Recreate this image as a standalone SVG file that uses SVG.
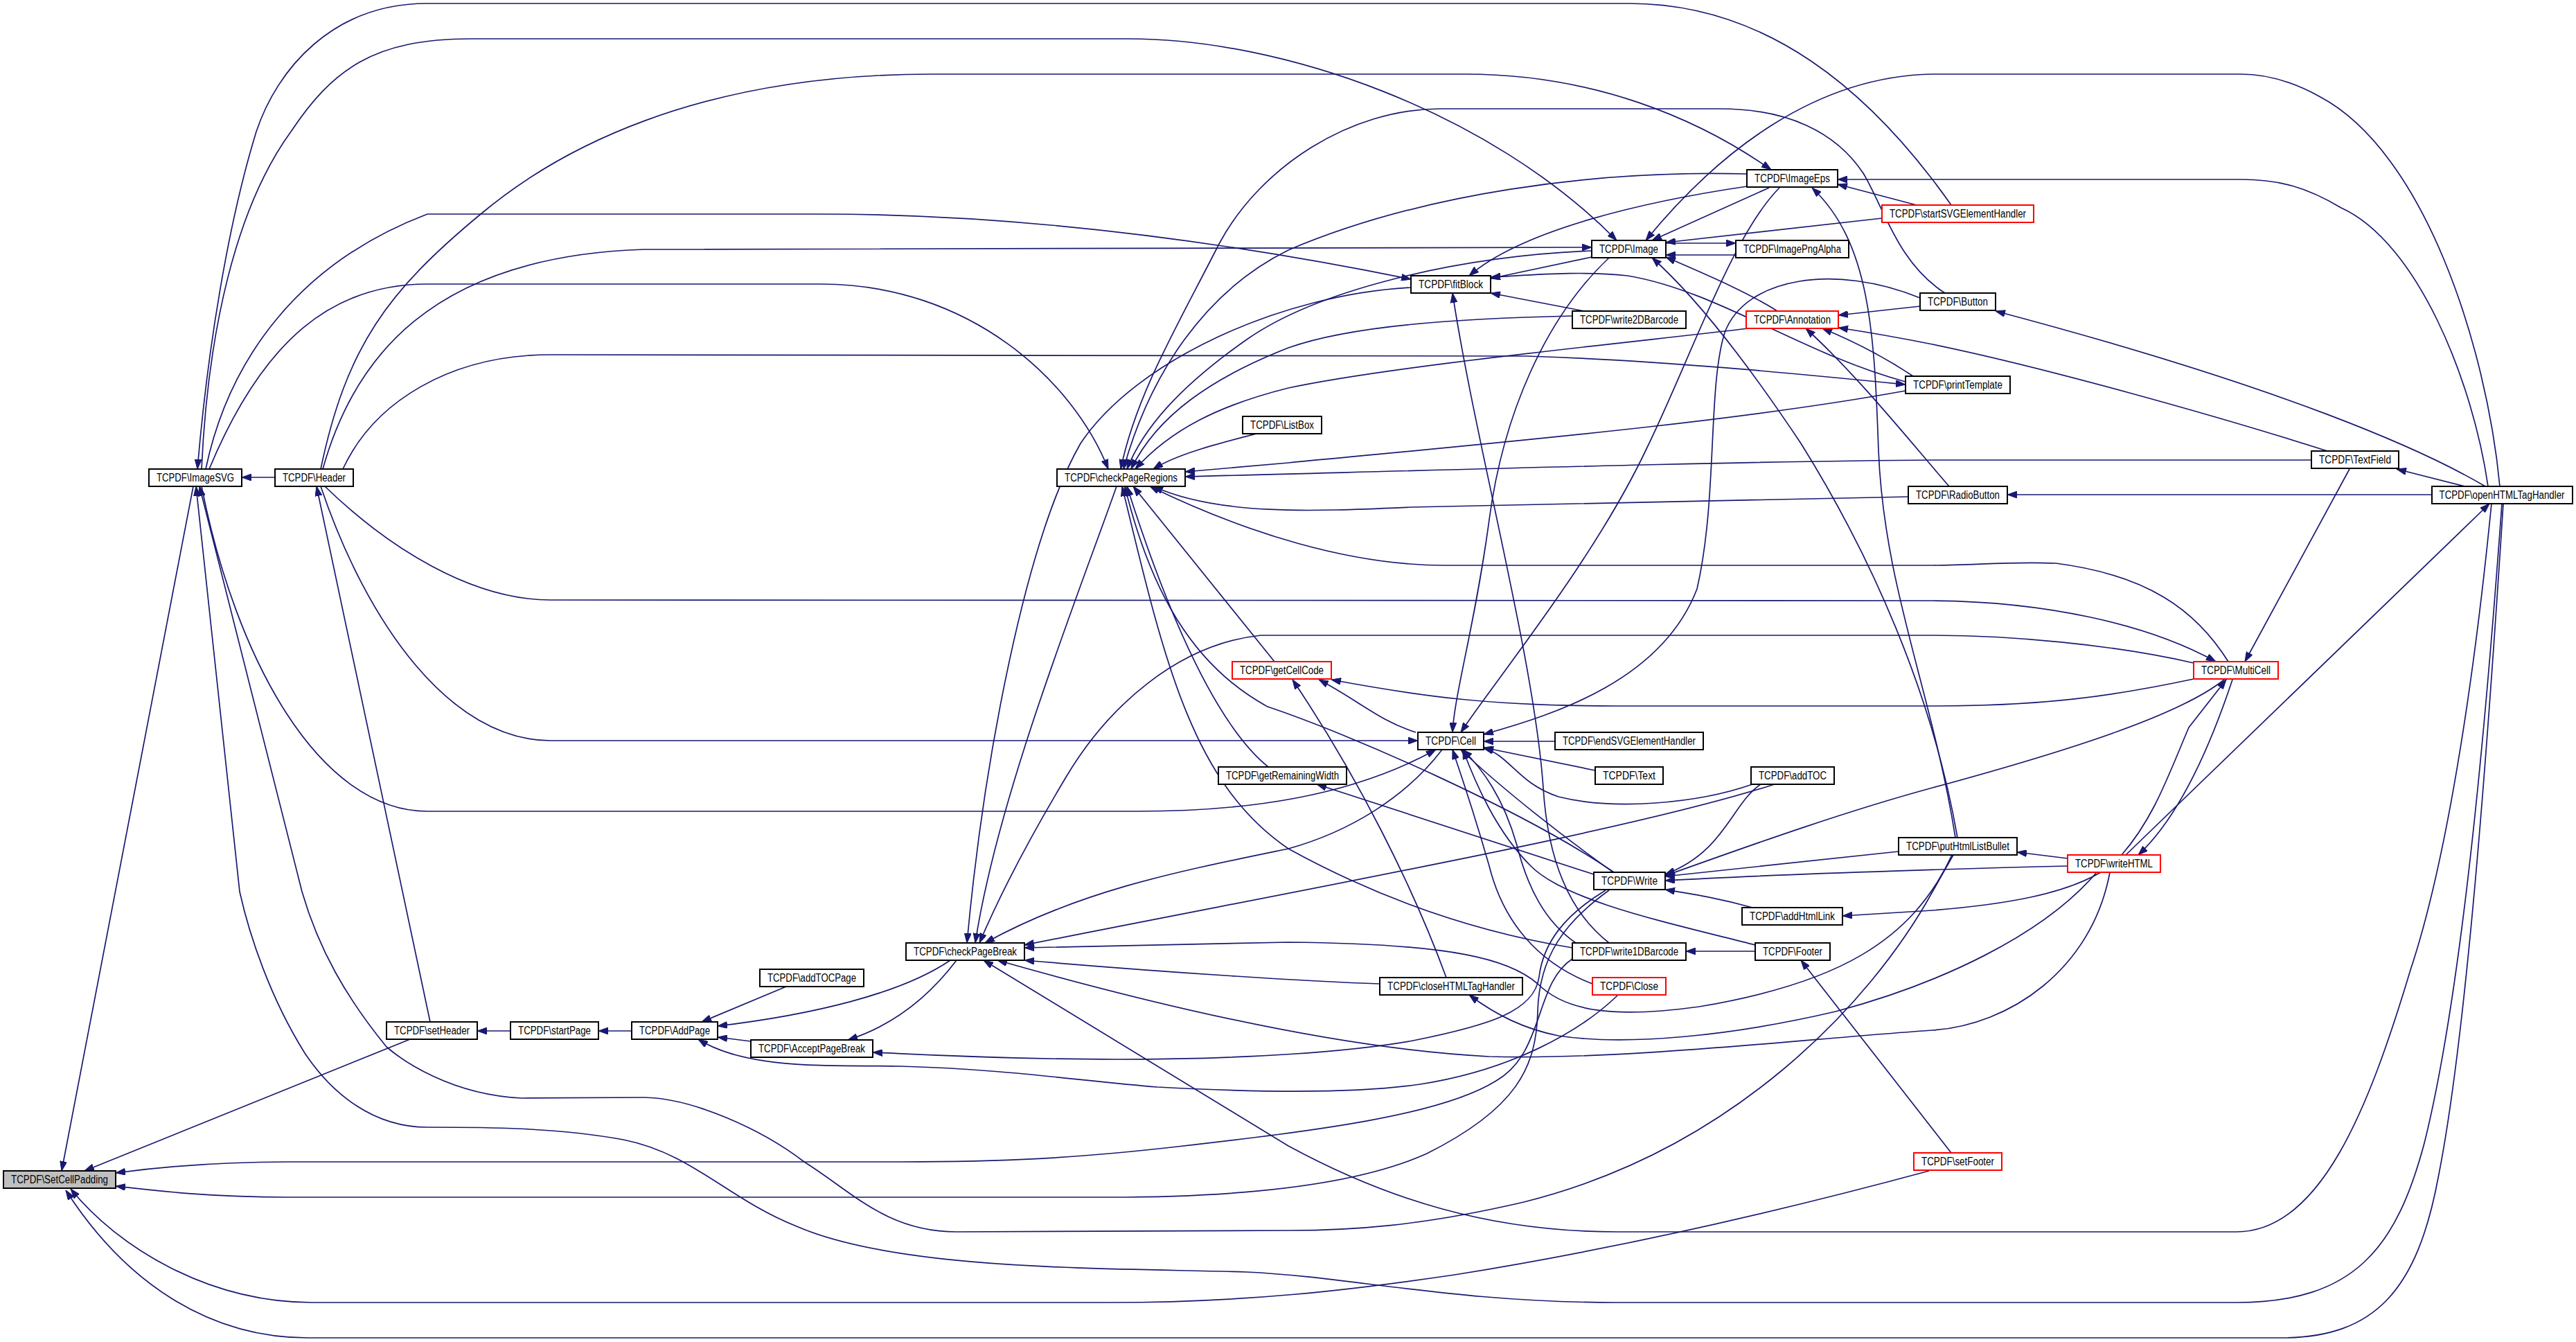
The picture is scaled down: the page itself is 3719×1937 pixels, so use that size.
<svg xmlns="http://www.w3.org/2000/svg" width="3719" height="1937" viewBox="0 0 3719 1937">
<style>
.edge{fill:none;stroke:#191970;stroke-width:1.7;marker-end:url(#arr)}
.node rect{fill:#ffffff;stroke:#000000;stroke-width:2}
.node.red rect{stroke:#ff0000}
.node.root rect{fill:#bfbfbf}
.node text{font-family:"Liberation Sans",Arial,sans-serif;font-size:16px;text-anchor:middle;fill:#000000}
</style>
<defs>
<marker id="arr" viewBox="0 0 14 10" refX="14" refY="5" markerWidth="14" markerHeight="10" markerUnits="userSpaceOnUse" orient="auto">
<path d="M0,0 L14,5 L0,10 z" fill="#191970" stroke="#191970"/>
</marker>
</defs>
<rect width="3719" height="1937" fill="#ffffff"/>
<g id="edges">
<path class="edge" d="M397,689 L349,689"/>
<path class="edge" d="M279,702 L89,1690"/>
<path class="edge" d="M592,1500 L122,1690"/>
<path class="edge" d="M2270,1384 C2215,1420 2230,1520 2160,1560 C2080,1610 1900,1632 1700,1655 C1550,1672 1450,1677 1300,1677 L415,1677 C300,1677 220,1686 167,1693"/>
<path class="edge" d="M2323,1285 C2260,1330 2222,1380 2220,1460 C2218,1540 2190,1600 2060,1665 C1960,1710 1800,1728 1600,1728 L415,1728 C300,1728 220,1718 167,1712"/>
<path class="edge" d="M2785,1690 C2600,1740 2350,1800 2100,1840 C1950,1862 1800,1880 1600,1880 L451,1880 C300,1880 170,1800 102,1716"/>
<path class="edge" d="M3614,727 C3590,1100 3560,1500 3520,1700 C3490,1860 3430,1931 3294,1931 L445,1931 C300,1931 180,1850 95,1718"/>
<path class="edge" d="M469,702 C560,790 680,866 795,866 L2790,867 C2950,868 3100,900 3199,955"/>
<path class="edge" d="M463,702 C530,900 650,1069 795,1069 L2047,1069"/>
<path class="edge" d="M621,1475 L457,702"/>
<path class="edge" d="M291,702 C340,950 460,1171 617,1171 L1642,1171 C1800,1171 1950,1150 2073,1082"/>
<path class="edge" d="M2820,1234 L2790,1287 C2700,1450 2500,1660 2200,1735 C2050,1770 1950,1776 1860,1776 L1381,1778 C1280,1778 1230,1720 1161,1677 C1100,1630 1000,1585 930,1584 L753,1585 C650,1580 580,1530 558,1511 C500,1440 460,1370 436,1287 L288,702"/>
<path class="edge" d="M3612,727 C3585,1100 3550,1450 3500,1650 C3460,1800 3400,1880 3229,1880 L2334,1880 C2100,1880 1950,1843 1800,1836 C1600,1830 1300,1835 1150,1770 C1050,1730 1000,1665 900,1645 C800,1627 700,1627 617,1627 C540,1627 480,1580 440,1520 C390,1440 360,1350 346,1287 L283,702"/>
<path class="edge" d="M3597,727 C3570,1000 3530,1250 3480,1400 C3420,1600 3350,1778 3229,1778 L2334,1778 C2150,1778 2000,1730 1860,1654 L1420,1386"/>
<path class="edge" d="M2817,296 C2700,130 2550,5 2352,5 L617,5 C480,5 400,100 370,190 C330,320 300,500 285,677"/>
<path class="edge" d="M291,677 C300,480 340,300 420,190 C480,100 540,56 680,56 L1630,56 C1850,56 2150,160 2334,347"/>
<path class="edge" d="M463,677 C500,500 560,420 694,309 C800,220 1000,107 1345,107 L2115,107 C2300,107 2450,170 2557,245"/>
<path class="edge" d="M297,677 C330,520 430,380 617,309 L1185,309 C1500,309 1800,355 2037,403"/>
<path class="edge" d="M466,677 C510,520 620,370 930,360 L2298,357"/>
<path class="edge" d="M302,677 C380,490 480,410 617,410 L1185,410 C1400,410 1550,550 1600,677"/>
<path class="edge" d="M495,677 C540,580 650,512 795,512 L2204,514 C2400,520 2600,540 2751,555"/>
<path class="edge" d="M737,1488 L689,1488"/>
<path class="edge" d="M912,1488 L864,1488"/>
<path class="edge" d="M1135,1424 L1013,1475"/>
<path class="edge" d="M1372,1386 C1300,1435 1170,1465 1036,1481"/>
<path class="edge" d="M1381,1386 C1340,1440 1290,1480 1224,1501"/>
<path class="edge" d="M1084,1503 L1036,1497"/>
<path class="edge" d="M2335,1437 C2280,1490 2180,1545 2050,1565 C1950,1580 1800,1576 1671,1569 C1560,1560 1450,1543 1300,1539 C1200,1537 1080,1545 1008,1500"/>
<path class="edge" d="M2318,1285 C2260,1320 2228,1360 2222,1410 C2215,1460 2150,1480 2040,1502 C1950,1518 1800,1529 1612,1529 C1450,1529 1330,1522 1260,1519"/>
<path class="edge" d="M2037,415 C1850,425 1640,520 1560,640 C1480,780 1420,1100 1396,1361"/>
<path class="edge" d="M1612,702 C1560,850 1440,1150 1408,1361"/>
<path class="edge" d="M3167,957 C3050,930 2900,917 2790,917 L1820,917 C1700,930 1600,1020 1540,1120 C1480,1220 1440,1300 1414,1361"/>
<path class="edge" d="M2082,1082 C2030,1150 1950,1200 1860,1225 C1700,1258 1560,1285 1422,1361"/>
<path class="edge" d="M2562,1132 C2350,1200 1900,1280 1479,1364"/>
<path class="edge" d="M2818,1234 C2760,1360 2650,1420 2453,1453 C2330,1470 2260,1460 2220,1420 C2180,1385 2100,1362 1860,1360 L1479,1368"/>
<path class="edge" d="M1992,1420 C1900,1417 1700,1405 1479,1386"/>
<path class="edge" d="M3046,1259 C3020,1400 2900,1480 2790,1487 C2600,1500 2350,1530 2150,1525 C1950,1515 1700,1460 1440,1386"/>
<path class="edge" d="M3027,1259 C2950,1350 2800,1420 2650,1460 C2500,1495 2350,1510 2250,1495 C2200,1485 2160,1465 2121,1436"/>
<path class="edge" d="M3033,1259 C2980,1290 2900,1305 2790,1314 L2660,1322"/>
<path class="edge" d="M2985,1250 C2900,1252 2600,1260 2404,1271"/>
<path class="edge" d="M2985,1239 L2912,1230"/>
<path class="edge" d="M3069,1234 L3594,727"/>
<path class="edge" d="M3063,1234 C3110,1180 3130,1120 3160,1050 L3214,981"/>
<path class="edge" d="M3223,981 C3190,1080 3145,1180 3087,1234"/>
<path class="edge" d="M3211,981 C3150,1030 3000,1080 2790,1137 C2650,1175 2500,1230 2404,1264"/>
<path class="edge" d="M3167,980 C3050,1005 2950,1019 2790,1019 L2334,1019 C2150,1019 2050,1005 1922,981"/>
<path class="edge" d="M3217,955 C3170,880 3100,830 2968,813 C2900,810 2850,816 2790,816 L2085,816 C1950,816 1800,770 1660,702"/>
<path class="edge" d="M3392,677 L3241,955"/>
<path class="edge" d="M3337,664 L2790,664 C2500,666 2100,678 1711,688"/>
<path class="edge" d="M3360,651 C3200,600 2950,530 2790,497 C2740,487 2700,480 2654,473"/>
<path class="edge" d="M3558,702 L3460,677"/>
<path class="edge" d="M3511,714 L2898,714"/>
<path class="edge" d="M3588,702 C3500,650 3300,560 2881,449"/>
<path class="edge" d="M3609,702 C3590,500 3500,220 3350,140 C3300,112 3260,107 3235,107 L2790,107 C2620,110 2480,220 2376,347"/>
<path class="edge" d="M3592,702 C3570,550 3490,350 3380,300 C3330,270 3290,259 3235,259 L2653,259"/>
<path class="edge" d="M2826,1209 C2790,1000 2700,800 2600,640 C2520,520 2450,430 2385,372"/>
<path class="edge" d="M2823,1209 C2790,1000 2720,850 2712,650 C2706,480 2700,350 2616,271"/>
<path class="edge" d="M2767,296 L2653,266"/>
<path class="edge" d="M2717,315 L2405,350"/>
<path class="edge" d="M2554,271 L2385,347"/>
<path class="edge" d="M2405,351 L2506,351"/>
<path class="edge" d="M2506,368 L2405,368"/>
<path class="edge" d="M2566,449 C2520,420 2460,395 2405,371"/>
<path class="edge" d="M2298,371 L2152,402"/>
<path class="edge" d="M2522,269 C2380,290 2200,330 2121,398"/>
<path class="edge" d="M2287,449 L2152,423"/>
<path class="edge" d="M2751,551 C2600,510 2480,420 2350,398 C2280,390 2200,398 2152,400"/>
<path class="edge" d="M2323,1361 C2270,1320 2235,1250 2228,1137 C2215,950 2130,640 2097,423"/>
<path class="edge" d="M2772,442 L2654,455"/>
<path class="edge" d="M2814,702 C2760,640 2680,540 2607,474"/>
<path class="edge" d="M2762,543 C2720,515 2670,490 2631,474"/>
<path class="edge" d="M2525,474 C2300,500 2000,530 1860,560 C1760,585 1690,620 1639,677"/>
<path class="edge" d="M2270,456 C2100,460 1950,470 1860,502 C1750,545 1670,600 1633,677"/>
<path class="edge" d="M2298,362 C2100,370 1900,420 1800,490 C1700,560 1650,620 1627,677"/>
<path class="edge" d="M2522,251 C2300,245 2050,280 1860,361 C1740,420 1660,540 1622,677"/>
<path class="edge" d="M2808,423 C2740,380 2720,300 2690,250 C2650,190 2580,157 2483,157 L2079,157 C1950,157 1820,240 1760,352 C1700,470 1640,570 1618,677"/>
<path class="edge" d="M1814,626 C1760,640 1700,655 1665,677"/>
<path class="edge" d="M1840,955 L1636,702"/>
<path class="edge" d="M1831,1107 C1760,1050 1690,900 1627,702"/>
<path class="edge" d="M2330,1259 C2200,1170 1950,1060 1830,1020 C1720,960 1660,850 1624,702"/>
<path class="edge" d="M2270,1368 C2100,1340 1960,1280 1860,1225 C1720,1130 1680,950 1620,702"/>
<path class="edge" d="M2755,717 L2038,732 C1900,738 1760,745 1665,702"/>
<path class="edge" d="M2751,564 C2500,610 2150,640 1860,668 L1711,681"/>
<path class="edge" d="M2323,372 C2230,460 2170,600 2150,750 C2130,900 2100,1000 2097,1057"/>
<path class="edge" d="M2569,271 C2500,340 2440,520 2376,650 C2300,810 2160,980 2109,1057"/>
<path class="edge" d="M2772,430 C2650,380 2520,400 2490,480 C2465,560 2480,720 2450,850 C2400,980 2250,1030 2142,1060"/>
<path class="edge" d="M2245,1070 L2142,1070"/>
<path class="edge" d="M2303,1112 L2142,1079"/>
<path class="edge" d="M2530,1132 C2450,1160 2330,1170 2250,1150 C2190,1130 2180,1090 2142,1080"/>
<path class="edge" d="M2329,1259 C2260,1210 2170,1140 2109,1082"/>
<path class="edge" d="M2299,1420 C2220,1390 2170,1330 2150,1250 C2130,1180 2110,1120 2097,1082"/>
<path class="edge" d="M2275,1361 C2230,1330 2205,1280 2190,1220 C2170,1150 2140,1110 2112,1082"/>
<path class="edge" d="M2534,1364 C2400,1330 2260,1300 2210,1250 C2160,1200 2130,1130 2112,1082"/>
<path class="edge" d="M2044,1057 C1990,1040 1960,1010 1904,981"/>
<path class="edge" d="M2088,1411 C2040,1280 1960,1120 1866,981"/>
<path class="edge" d="M2301,1262 L1901,1132"/>
<path class="edge" d="M2542,1132 C2500,1160 2490,1230 2404,1262"/>
<path class="edge" d="M2741,1229 L2404,1265"/>
<path class="edge" d="M2530,1310 C2480,1296 2440,1290 2404,1284"/>
<path class="edge" d="M2534,1373 L2434,1373"/>
<path class="edge" d="M2817,1664 L2600,1386"/>
</g>
<g id="node-SetCellPadding" class="node root"><rect x="5" y="1690" width="162" height="25"/><text x="86" y="1707.5" textLength="140" lengthAdjust="spacingAndGlyphs">TCPDF\SetCellPadding</text></g>
<g id="node-ImageSVG" class="node"><rect x="215" y="677" width="134" height="25"/><text x="282" y="694.5" textLength="112" lengthAdjust="spacingAndGlyphs">TCPDF\ImageSVG</text></g>
<g id="node-Header" class="node"><rect x="397" y="677" width="113" height="25"/><text x="453.5" y="694.5" textLength="91" lengthAdjust="spacingAndGlyphs">TCPDF\Header</text></g>
<g id="node-setHeader" class="node"><rect x="558" y="1475" width="131" height="25"/><text x="623.5" y="1492.5" textLength="109" lengthAdjust="spacingAndGlyphs">TCPDF\setHeader</text></g>
<g id="node-startPage" class="node"><rect x="737" y="1475" width="127" height="25"/><text x="800.5" y="1492.5" textLength="105" lengthAdjust="spacingAndGlyphs">TCPDF\startPage</text></g>
<g id="node-AddPage" class="node"><rect x="912" y="1475" width="124" height="25"/><text x="974" y="1492.5" textLength="102" lengthAdjust="spacingAndGlyphs">TCPDF\AddPage</text></g>
<g id="node-addTOCPage" class="node"><rect x="1097" y="1399" width="150" height="25"/><text x="1172" y="1416.5" textLength="128" lengthAdjust="spacingAndGlyphs">TCPDF\addTOCPage</text></g>
<g id="node-AcceptPageBreak" class="node"><rect x="1084" y="1501" width="176" height="25"/><text x="1172" y="1518.5" textLength="154" lengthAdjust="spacingAndGlyphs">TCPDF\AcceptPageBreak</text></g>
<g id="node-checkPageBreak" class="node"><rect x="1308" y="1361" width="171" height="25"/><text x="1393.5" y="1378.5" textLength="149" lengthAdjust="spacingAndGlyphs">TCPDF\checkPageBreak</text></g>
<g id="node-checkPageRegions" class="node"><rect x="1526" y="677" width="185" height="25"/><text x="1618.5" y="694.5" textLength="163" lengthAdjust="spacingAndGlyphs">TCPDF\checkPageRegions</text></g>
<g id="node-ListBox" class="node"><rect x="1794" y="601" width="114" height="25"/><text x="1851" y="618.5" textLength="92" lengthAdjust="spacingAndGlyphs">TCPDF\ListBox</text></g>
<g id="node-getCellCode" class="node red"><rect x="1779" y="955" width="143" height="25"/><text x="1850.5" y="972.5" textLength="121" lengthAdjust="spacingAndGlyphs">TCPDF\getCellCode</text></g>
<g id="node-getRemainingWidth" class="node"><rect x="1759" y="1107" width="185" height="25"/><text x="1851.5" y="1124.5" textLength="163" lengthAdjust="spacingAndGlyphs">TCPDF\getRemainingWidth</text></g>
<g id="node-closeHTMLTagHandler" class="node"><rect x="1992" y="1411" width="206" height="25"/><text x="2095" y="1428.5" textLength="184" lengthAdjust="spacingAndGlyphs">TCPDF\closeHTMLTagHandler</text></g>
<g id="node-fitBlock" class="node"><rect x="2037" y="398" width="115" height="25"/><text x="2094.5" y="415.5" textLength="93" lengthAdjust="spacingAndGlyphs">TCPDF\fitBlock</text></g>
<g id="node-Cell" class="node"><rect x="2047" y="1057" width="95" height="25"/><text x="2094.5" y="1074.5" textLength="73" lengthAdjust="spacingAndGlyphs">TCPDF\Cell</text></g>
<g id="node-Image" class="node"><rect x="2298" y="347" width="107" height="25"/><text x="2351.5" y="364.5" textLength="85" lengthAdjust="spacingAndGlyphs">TCPDF\Image</text></g>
<g id="node-write2DBarcode" class="node"><rect x="2270" y="449" width="164" height="25"/><text x="2352" y="466.5" textLength="142" lengthAdjust="spacingAndGlyphs">TCPDF\write2DBarcode</text></g>
<g id="node-endSVGElementHandler" class="node"><rect x="2245" y="1057" width="214" height="25"/><text x="2352" y="1074.5" textLength="192" lengthAdjust="spacingAndGlyphs">TCPDF\endSVGElementHandler</text></g>
<g id="node-Text" class="node"><rect x="2303" y="1107" width="98" height="25"/><text x="2352" y="1124.5" textLength="76" lengthAdjust="spacingAndGlyphs">TCPDF\Text</text></g>
<g id="node-Write" class="node"><rect x="2301" y="1259" width="103" height="25"/><text x="2352.5" y="1276.5" textLength="81" lengthAdjust="spacingAndGlyphs">TCPDF\Write</text></g>
<g id="node-write1DBarcode" class="node"><rect x="2270" y="1361" width="164" height="25"/><text x="2352" y="1378.5" textLength="142" lengthAdjust="spacingAndGlyphs">TCPDF\write1DBarcode</text></g>
<g id="node-Close" class="node red"><rect x="2299" y="1411" width="106" height="25"/><text x="2352" y="1428.5" textLength="84" lengthAdjust="spacingAndGlyphs">TCPDF\Close</text></g>
<g id="node-ImageEps" class="node"><rect x="2522" y="245" width="131" height="25"/><text x="2587.5" y="262.5" textLength="109" lengthAdjust="spacingAndGlyphs">TCPDF\ImageEps</text></g>
<g id="node-ImagePngAlpha" class="node"><rect x="2506" y="347" width="163" height="25"/><text x="2587.5" y="364.5" textLength="141" lengthAdjust="spacingAndGlyphs">TCPDF\ImagePngAlpha</text></g>
<g id="node-Annotation" class="node red"><rect x="2521" y="449" width="133" height="25"/><text x="2587.5" y="466.5" textLength="111" lengthAdjust="spacingAndGlyphs">TCPDF\Annotation</text></g>
<g id="node-addTOC" class="node"><rect x="2528" y="1107" width="120" height="25"/><text x="2588" y="1124.5" textLength="98" lengthAdjust="spacingAndGlyphs">TCPDF\addTOC</text></g>
<g id="node-addHtmlLink" class="node"><rect x="2515" y="1310" width="145" height="25"/><text x="2587.5" y="1327.5" textLength="123" lengthAdjust="spacingAndGlyphs">TCPDF\addHtmlLink</text></g>
<g id="node-Footer" class="node"><rect x="2534" y="1361" width="108" height="25"/><text x="2588" y="1378.5" textLength="86" lengthAdjust="spacingAndGlyphs">TCPDF\Footer</text></g>
<g id="node-startSVGElementHandler" class="node red"><rect x="2717" y="296" width="219" height="25"/><text x="2826.5" y="313.5" textLength="197" lengthAdjust="spacingAndGlyphs">TCPDF\startSVGElementHandler</text></g>
<g id="node-Button" class="node"><rect x="2772" y="423" width="109" height="25"/><text x="2826.5" y="440.5" textLength="87" lengthAdjust="spacingAndGlyphs">TCPDF\Button</text></g>
<g id="node-printTemplate" class="node"><rect x="2751" y="543" width="151" height="25"/><text x="2826.5" y="560.5" textLength="129" lengthAdjust="spacingAndGlyphs">TCPDF\printTemplate</text></g>
<g id="node-RadioButton" class="node"><rect x="2755" y="702" width="143" height="25"/><text x="2826.5" y="719.5" textLength="121" lengthAdjust="spacingAndGlyphs">TCPDF\RadioButton</text></g>
<g id="node-putHtmlListBullet" class="node"><rect x="2741" y="1209" width="171" height="25"/><text x="2826.5" y="1226.5" textLength="149" lengthAdjust="spacingAndGlyphs">TCPDF\putHtmlListBullet</text></g>
<g id="node-setFooter" class="node red"><rect x="2763" y="1664" width="127" height="25"/><text x="2826.5" y="1681.5" textLength="105" lengthAdjust="spacingAndGlyphs">TCPDF\setFooter</text></g>
<g id="node-writeHTML" class="node red"><rect x="2985" y="1234" width="134" height="25"/><text x="3052" y="1251.5" textLength="112" lengthAdjust="spacingAndGlyphs">TCPDF\writeHTML</text></g>
<g id="node-MultiCell" class="node red"><rect x="3167" y="955" width="122" height="25"/><text x="3228" y="972.5" textLength="100" lengthAdjust="spacingAndGlyphs">TCPDF\MultiCell</text></g>
<g id="node-TextField" class="node"><rect x="3337" y="651" width="126" height="25"/><text x="3400" y="668.5" textLength="104" lengthAdjust="spacingAndGlyphs">TCPDF\TextField</text></g>
<g id="node-openHTMLTagHandler" class="node"><rect x="3511" y="702" width="203" height="25"/><text x="3612" y="719.5" textLength="181" lengthAdjust="spacingAndGlyphs">TCPDF\openHTMLTagHandler</text></g>
</svg>
